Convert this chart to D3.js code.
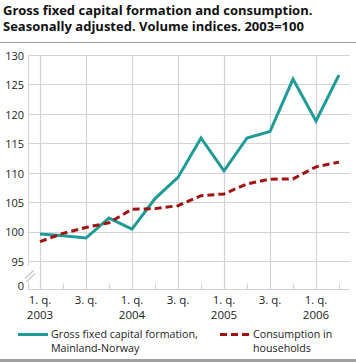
<!DOCTYPE html>
<html><head><meta charset="utf-8">
<script src="https://cdn.jsdelivr.net/npm/d3@7/dist/d3.min.js"></script>
<style>
html,body{margin:0;padding:0;background:#fff;}
svg{display:block;}
text{font-family:"Open Sans",sans-serif;fill:#222;}
</style></head>
<body>
<script>
const titleLines = ["Gross fixed capital formation and consumption.", "Seasonally adjusted. Volume indices. 2003=100"];
const quarters = ["2003Q1","2003Q2","2003Q3","2003Q4","2004Q1","2004Q2","2004Q3","2004Q4","2005Q1","2005Q2","2005Q3","2005Q4","2006Q1","2006Q2"];
const capitalFormation = [99.6, 99.3, 98.9, 102.3, 100.4, 105.6, 109.2, 115.9, 110.3, 115.9, 117.0, 125.9, 118.8, 126.6];
const consumption = [98.3, 99.7, 100.7, 101.5, 103.8, 103.9, 104.4, 106.1, 106.4, 108.1, 108.9, 108.95, 111.0, 111.8];
const yTicks = [95, 100, 105, 110, 115, 120, 125, 130];
const xLabels = {"2003Q1":["1. q.","2003"],"2003Q3":["3. q."],"2004Q1":["1. q.","2004"],"2004Q3":["3. q."],"2005Q1":["1. q.","2005"],"2005Q3":["3. q."],"2006Q1":["1. q.","2006"]};
const legendItems = [
  {lines:["Gross fixed capital formation,","Mainland-Norway"], key:"gfcf"},
  {lines:["Consumption in","households"], key:"cons"}
];

const W = 356, H = 362;
const teal = "#1f9b97", red = "#a01313", grid = "#d3d3d3";
const svg = d3.select("body").append("svg").attr("width", W).attr("height", H);

// title
svg.selectAll("text.title").data(titleLines).enter().append("text")
  .attr("class","title").attr("x", 3).attr("y", (d,i)=> 14.5 + i*16.5)
  .style("font-weight","700").style("font-size","13px").style("fill","#111")
  .text(d=>d);
svg.append("line").attr("x1",0).attr("x2",W).attr("y1",42.5).attr("y2",42.5)
  .attr("stroke","#a0a0a0").attr("stroke-width",1);
svg.append("rect").attr("x",0).attr("y",359).attr("width",W).attr("height",3).attr("fill","#a0a0a0");

const left = 28, right = 350;
const x = d3.scalePoint().domain(quarters).range([40, 339]);
const y = d3.scaleLinear().domain([95, 130]).range([261, 55]);
const yZero = 288.5, axisY = 289.5;

// horizontal grid
svg.append("g").selectAll("line").data(yTicks).enter().append("line")
  .attr("x1", left).attr("x2", right)
  .attr("y1", d=>Math.round(y(d))+0.5).attr("y2", d=>Math.round(y(d))+0.5)
  .attr("stroke", grid).attr("stroke-width", 1.2);

// vertical grid at labelled quarters, small ticks otherwise
svg.append("g").selectAll("line").data(quarters).enter().append("line")
  .attr("x1", d=>Math.round(x(d))+0.5).attr("x2", d=>Math.round(x(d))+0.5)
  .attr("y1", d=> xLabels[d] ? 55 : axisY-6).attr("y2", axisY)
  .attr("stroke", grid).attr("stroke-width", 1.2);

// left axis with break
svg.append("line").attr("x1",left+0.5).attr("x2",left+0.5).attr("y1",55).attr("y2",266).attr("stroke",grid).attr("stroke-width",1.2);
svg.append("line").attr("x1",left+0.5).attr("x2",left+0.5).attr("y1",282).attr("y2",axisY).attr("stroke",grid).attr("stroke-width",1.2);
svg.append("line").attr("x1",25).attr("y1",278.5).attr("x2",33.5).attr("y2",270.5).attr("stroke","#c8c8c8").attr("stroke-width",1.2);
svg.append("line").attr("x1",26.5).attr("y1",281.5).attr("x2",35).attr("y2",273.5).attr("stroke","#c8c8c8").attr("stroke-width",1.2);
// x axis
svg.append("line").attr("x1",left).attr("x2",right).attr("y1",axisY).attr("y2",axisY).attr("stroke",grid).attr("stroke-width",1.2);

// y labels
const yl = svg.append("g").style("font-size","11px").attr("text-anchor","end");
yl.selectAll("text").data(yTicks).enter().append("text")
  .attr("x", 24).attr("y", d=>y(d)+1).attr("dy","0.35em").text(d=>d);
yl.append("text").attr("x",24).attr("y",yZero-2).attr("dy","0.35em").text("0");

// x labels
const xl = svg.append("g").style("font-size","11.5px").attr("text-anchor","middle");
quarters.filter(q=>xLabels[q]).forEach(q=>{
  const t = xl.append("text").attr("x", x(q)).attr("y", 304);
  xLabels[q].forEach((s,i)=>{
    t.append("tspan").attr("x", x(q)).attr("dy", i===0 ? 0 : 15).text(s);
  });
});

// lines
const line = d3.line().x((d,i)=>x(quarters[i])).y(d=>y(d));
svg.append("path").datum(capitalFormation).attr("d", line).attr("fill","none")
  .attr("stroke", teal).attr("stroke-width", 3).attr("stroke-linejoin","miter");
svg.append("path").datum(consumption).attr("d", line).attr("fill","none")
  .attr("stroke", red).attr("stroke-width", 3).attr("stroke-dasharray","7,4");

// legend
const lg = svg.append("g").style("font-size","10.7px");
const legX = [18, 220];
legendItems.forEach((it,i)=>{
  lg.append("line").attr("x1",legX[i]).attr("x2",legX[i]+30).attr("y1",334.5).attr("y2",334.5)
    .attr("stroke", it.key==="gfcf"?teal:red).attr("stroke-width",3)
    .attr("stroke-dasharray", it.key==="gfcf"?null:"7,4");
  const t = lg.append("text").attr("x",legX[i]+33).attr("y",337.5);
  it.lines.forEach((s,j)=>{
    t.append("tspan").attr("x",legX[i]+33).attr("dy", j===0 ? 0 : 14.6).text(s);
  });
});
</script>
</body></html>
